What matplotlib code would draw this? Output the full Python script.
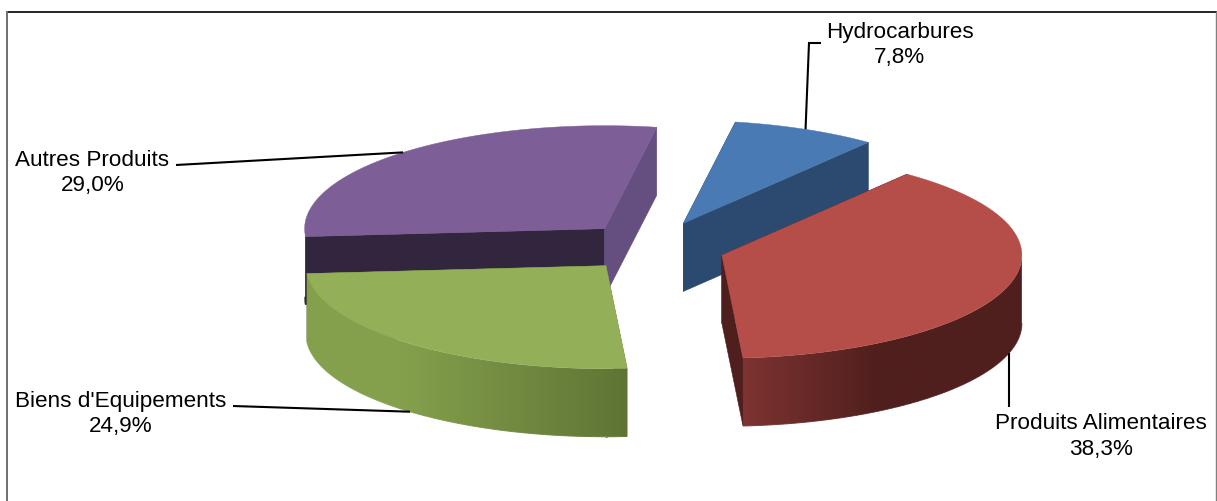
import numpy as np
import matplotlib
matplotlib.use("Agg")
import matplotlib.pyplot as plt
from matplotlib.colors import to_rgb
from matplotlib.patches import Polygon
from matplotlib.collections import LineCollection

# ---- data ----
categories = ["Hydrocarbures", "Produits Alimentaires", "Biens d'Equipements", "Autres Produits"]
values = [7.8, 38.3, 24.9, 29.0]

# ---- style / geometry ----
top_colors = ["#4a7ab3", "#b54d49", "#93b058", "#7d5e97"]
start_face = ["#2c4a70", "#4f1f1d", "#5f7535", "#32263f"]
end_face = ["#2c4a70", "#4f1f1d", "#5f7535", "#654f80"]
rim_left = ["#2c4a70", "#7d3331", "#85a04d", "#32263f"]
rim_right = ["#2c4a70", "#4f1f1d", "#5f7434", "#32263f"]
rim_span = [None, (743, 880), (400, 627), None]   # pixel span of the rim shading
nudge = [(1, -1), (0, 1), (0, 0), (0, 0)]
draw_order = [3, 0, 1, 2]
label_xy = [(899.5, 45), (1101, 436.5), (121, 414), (92.5, 173)]
leader_via = [[(809, 44), (821, 44)], [(None, 408)], [(233, 407)], [(176, 166)]]
CX, CY = 653, 248
A, B = 300, 103
DEPTH = 68
EXPLODE = 72
START = 10.0
K = B / A

fig = plt.figure(figsize=(12.17, 5.02), dpi=100)
ax = fig.add_axes([0, 0, 1, 1])
ax.axis("off")

total = sum(values)
edges = START + np.concatenate([[0], np.cumsum(values)]) / total * 360


def point(c, deg):
    r = np.radians(deg)
    return c[0] + A * np.sin(r), c[1] - B * np.cos(r)


centers, mids = [], []
for i in range(len(values)):
    mid = (edges[i] + edges[i + 1]) / 2
    mids.append(mid)
    r = np.radians(mid)
    centers.append((CX + EXPLODE * np.sin(r) + nudge[i][0],
                    CY - EXPLODE * K * np.cos(r) + nudge[i][1]))


def blend(i, x):
    span = rim_span[i]
    if span is None:
        return np.array(to_rgb(rim_left[i]))
    t = np.clip((x - span[0]) / (span[1] - span[0]), 0, 1)
    return (1 - t) * np.array(to_rgb(rim_left[i])) + t * np.array(to_rgb(rim_right[i]))


z = 2
for i in draw_order:
    c = centers[i]
    t0, t1 = edges[i], edges[i + 1]
    # flat cut faces
    for deg, col in ((t0, start_face[i]), (t1, end_face[i])):
        px, py = point(c, deg)
        ax.fill([c[0], px, px, c[0]], [c[1], py, py + DEPTH, c[1] + DEPTH],
                color=col, lw=0.4, zorder=z)
        z += 1
    # curved rim, front half only: gradient image clipped to the rim outline
    lo, hi = max(t0, 90), min(t1, 270)
    if hi > lo:
        th = np.linspace(lo, hi, 300)
        xs, ys = point(c, th)
        verts = np.c_[np.r_[xs, xs[::-1]], np.r_[ys, ys[::-1] + DEPTH]]
        xmin, xmax = xs.min(), xs.max()
        ymin, ymax = ys.min(), ys.max() + DEPTH + 2
        columns = np.linspace(xmin, xmax, max(int(xmax - xmin), 2))
        strip = np.array([blend(i, x) for x in columns])[np.newaxis, :, :]
        im = ax.imshow(strip, extent=(xmin, xmax, ymax, ymin), aspect="auto",
                       interpolation="bilinear", zorder=z)
        clip = Polygon(verts, closed=True, transform=ax.transData)
        im.set_clip_path(clip)
        # smooth lower edge of the rim
        bx, by = xs, ys + DEPTH
        segs = np.stack([np.c_[bx[:-1], by[:-1]], np.c_[bx[1:], by[1:]]], axis=1)
        ax.add_collection(LineCollection(segs, colors=[blend(i, x) for x in bx[:-1]],
                                         linewidths=0.7, zorder=z))
        z += 1
    # top surface
    th = np.linspace(t0, t1, 200)
    xs, ys = point(c, th)
    ax.fill(np.r_[c[0], xs], np.r_[c[1], ys], color=top_colors[i], lw=0.3, zorder=z)
    z += 1

ax.set_xlim(0, 1217)
ax.set_ylim(502, 0)

# leaders and labels
for i, name in enumerate(categories):
    px, py = point(centers[i], mids[i])
    if np.cos(np.radians(mids[i])) < 0:
        py += DEPTH
    pts = [(px, py)] + [(px if vx is None else vx, vy) for vx, vy in leader_via[i]]
    ax.plot(*zip(*pts), color="black", lw=1.5, zorder=50,
            solid_joinstyle="miter", solid_capstyle="butt")
    pct = f"{values[i]:.1f}".replace(".", ",") + "%"
    ax.text(label_xy[i][0], label_xy[i][1], f"{name}\n{pct}", ha="center", va="center",
            family="Liberation Sans", fontsize=16.2, linespacing=1.26, color="black", zorder=60)

# chart frame
ax.plot([7, 1216], [12.5, 12.5], color="black", lw=1.2, zorder=70)
ax.plot([7, 7], [12.5, 502], color="#707070", lw=1.4, zorder=70)
ax.plot([1216, 1216], [12.5, 502], color="#808080", lw=1.0, zorder=70)
ax.set_xlim(0, 1217)
ax.set_ylim(502, 0)

fig.savefig("out.png", dpi=100, facecolor="white")
